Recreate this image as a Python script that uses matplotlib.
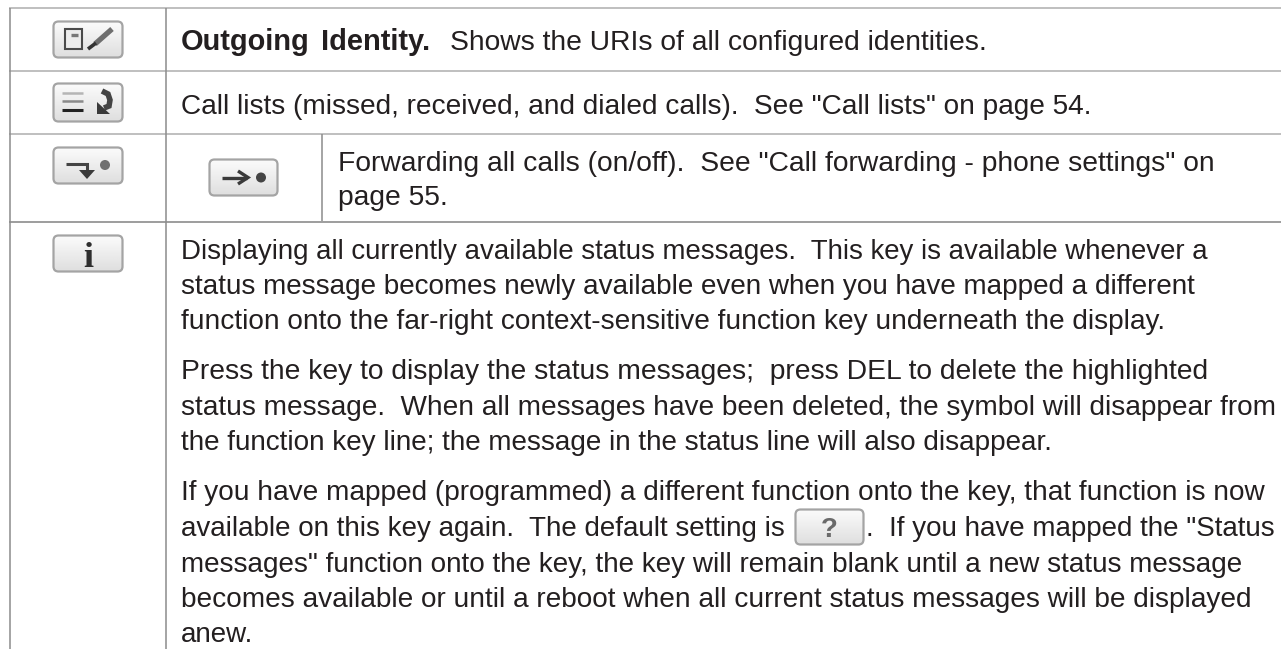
import matplotlib
matplotlib.use("Agg")
import matplotlib.pyplot as plt
import numpy as np
from matplotlib.patches import FancyBboxPatch, Rectangle, Circle, Polygon

plt.rcParams['font.family'] = ['Liberation Sans', 'DejaVu Sans']
W, H = 1281, 649
TXT = '#231f20'

bold_words = ["Outgoing", "Identity."]
shows = "Shows the URIs of all configured identities."
call_lists = "Call lists (missed, received, and dialed calls).  See \"Call lists\" on page 54."
forward_lines = [
    "Forwarding all calls (on/off).  See \"Call forwarding - phone settings\" on",
    "page 55.",
]
para1 = [
    "Displaying all currently available status messages.  This key is available whenever a",
    "status message becomes newly available even when you have mapped a different",
    "function onto the far-right context-sensitive function key underneath the display.",
]
para2 = [
    "Press the key to display the status messages;  press DEL to delete the highlighted",
    "status message.  When all messages have been deleted, the symbol will disappear from",
    "the function key line; the message in the status line will also disappear.",
]
para3_top = "If you have mapped (programmed) a different function onto the key, that function is now"
para3_left = "available on this key again.  The default setting is"
para3_right = ".  If you have mapped the \"Status"
para3_rest = [
    "messages\" function onto the key, the key will remain blank until a new status message",
    "becomes available or until a reboot when all current status messages will be displayed",
    "anew.",
]

fig = plt.figure(figsize=(W/100, H/100), dpi=100)
ax = fig.add_axes([0, 0, 1, 1])
ax.axis('off')

def t(x, y, s, fs=20.2, **k):
    ax.text(x, y, s, fontsize=fs, color=TXT, va='baseline', ha='left', **k)

# grid
for y, c in ((8, '#b4b4b4'), (71, '#b4b4b4'), (134, '#b4b4b4'), (221.5, '#8c8c8c')):
    ax.plot([9, W], [y, y], color=c, lw=1.2, solid_capstyle='butt')
ax.plot([9.5, 9.5], [8, H], color='#8c8c8c', lw=1.1, solid_capstyle='butt')
ax.plot([165.5, 165.5], [8, H], color='#8c8c8c', lw=1.1, solid_capstyle='butt')
ax.plot([321.5, 321.5], [134, 221], color='#8c8c8c', lw=1.1, solid_capstyle='butt')

grad = np.linspace(0.985, 0.87, 64).reshape(-1, 1)

def key(x0, y0, x1, y1):
    box = FancyBboxPatch((x0+5, y0+5), x1-x0-10, y1-y0-10,
                         boxstyle="round,pad=4.5,rounding_size=5",
                         fc='none', ec='#a4a4a4', lw=1.6, zorder=3.2)
    ax.add_patch(box)
    im = ax.imshow(grad, extent=(x0, x1, y1, y0), cmap='gray', vmin=0, vmax=1,
                   aspect='auto', zorder=3, interpolation='bilinear')
    im.set_clip_path(box)

def seg(xs, ys, c='#333333', lw=2, z=4):
    ax.plot(xs, ys, color=c, lw=lw, zorder=z, solid_capstyle='butt', solid_joinstyle='miter')

# key 1: identity
key(53, 21, 123, 58)
ax.add_patch(Rectangle((65, 28.5), 17, 20, fc='#ececec', ec='#4a4a4a', lw=1.5, zorder=4))
seg([71, 78], [35, 35], '#777777', 2.4)
seg([95, 112], [44, 29], '#6e6e6e', 3.8)
seg([88, 96], [49, 43], '#333333', 2.6)
# key 2: lists
key(53, 83, 123, 122)
seg([62, 83], [93, 93], '#b5b5b5', 1.8)
seg([62, 83], [100.5, 100.5], '#8a8a8a', 1.8)
seg([62, 83], [110, 110], '#222222', 2.2)
seg([102, 108, 110, 109, 104], [91, 94, 100, 106, 108], '#444444', 4)
ax.add_patch(Polygon([[97, 102], [97, 114], [110, 114]], fc='#3a3a3a', ec='none', zorder=4))
# key 3: forward
key(53, 147, 123, 184)
seg([66, 87, 87], [164, 164, 172], '#444444', 2.2)
ax.add_patch(Polygon([[79, 170], [95, 170], [87, 179]], fc='#3a3a3a', ec='none', zorder=4))
ax.add_patch(Circle((105, 165), 5, fc='#707070', ec='none', zorder=4))
# key 3b: forward, second column
key(209, 159, 278, 196)
seg([222, 247], [177.5, 177.5], '#3a3a3a', 2.4)
seg([238, 248, 238], [171, 177.5, 184], '#3a3a3a', 2.4)
ax.add_patch(Circle((261, 177.5), 5, fc='#444444', ec='none', zorder=4))
# key 4: info
key(53, 235, 123, 272)
ax.text(88.5, 267, "i", fontsize=26, family='Liberation Serif', fontweight='bold', color='#2e2e2e',
        ha='center', va='baseline', zorder=5)
# inline key
key(795, 509, 864, 545)
ax.text(829, 537, "?", fontsize=20, fontweight='bold', color='#6a6a6a', ha='center', va='baseline', zorder=5)

# text
t(181, 50, bold_words[0], fs=20.9, fontweight='bold')
t(321, 50, bold_words[1], fs=20.9, fontweight='bold')
t(450, 50, shows, fs=20.35)
t(181, 114, call_lists, fs=20.21)
for s, y, fs in zip(forward_lines, (171, 205), (20.39, 20.36)):
    t(337.5, y, s, fs=fs)
for s, y, fs in zip(para1, (259, 294, 329), (19.92, 20.08, 20.18)):
    t(181, y, s, fs=fs)
for s, y, fs in zip(para2, (379, 415, 450), (20.31, 20.13, 20.1)):
    t(181, y, s, fs=fs)
t(181, 500, para3_top, fs=20.15)
t(181, 536, para3_left, fs=20.0)
t(866, 536, para3_right, fs=20.0)
for s, y, fs in zip(para3_rest, (572, 607, 642), (20.06, 20.17, 20.0)):
    t(181, y, s, fs=fs)

ax.set_xlim(0, W); ax.set_ylim(H, 0)
fig.savefig("out.png", dpi=100)
